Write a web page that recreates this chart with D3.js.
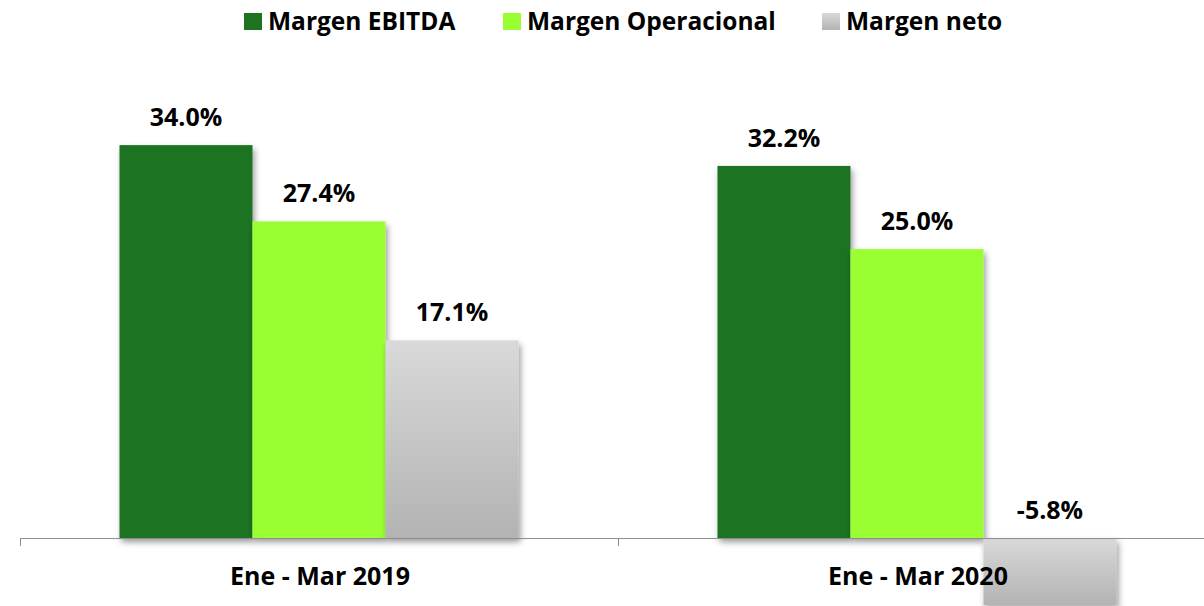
<!DOCTYPE html>
<html>
<head>
<meta charset="utf-8">
<script src="https://cdn.jsdelivr.net/npm/d3@7"></script>
<style>
  html, body { margin: 0; padding: 0; background: #fff; }
  svg { display: block; }
  text { font-family: "Open Sans", "Liberation Sans", sans-serif; font-weight: 700; fill: #000; }
</style>
</head>
<body>
<svg id="chart" width="1204" height="606"></svg>
<script>
const categories = ["Ene - Mar 2019", "Ene - Mar 2020"];
const seriesNames = ["Margen EBITDA", "Margen Operacional", "Margen neto"];
const ebitda = [34.0, 32.2];
const operacional = [27.4, 25.0];
const neto = [17.1, -5.8];
const seriesValues = [ebitda, operacional, neto];

const W = 1204, H = 606;
const svg = d3.select("#chart");
const defs = svg.append("defs");

const shadow = defs.append("filter").attr("id", "shadow")
  .attr("x", "-10%").attr("y", "-10%").attr("width", "130%").attr("height", "130%");
shadow.append("feDropShadow").attr("dx", 2).attr("dy", 4).attr("stdDeviation", 3)
  .attr("flood-color", "#000").attr("flood-opacity", 0.4);

const grayGrad = defs.append("linearGradient").attr("id", "grayGrad")
  .attr("x1", 0).attr("y1", 0).attr("x2", 0).attr("y2", 1);
grayGrad.append("stop").attr("offset", "0%").attr("stop-color", "#d9d9d9");
grayGrad.append("stop").attr("offset", "100%").attr("stop-color", "#b3b3b3");

const fills = ["#1e7321", "#99ff33", "url(#grayGrad)"];

const x0 = d3.scaleBand().domain(categories).range([20, 1216]).paddingInner(0).paddingOuter(0);
const x1 = d3.scaleBand().domain(seriesNames).range([0, x0.bandwidth()])
  .paddingInner(0).paddingOuter(0.748);
const y = d3.scaleLinear().domain([-6, 36]).range([607.4, 122]);

// bars
const data = [];
categories.forEach((c, ci) => {
  seriesNames.forEach((s, si) => {
    data.push({ cat: c, series: s, si, value: seriesValues[si][ci] });
  });
});

const barG = svg.append("g");
barG.selectAll("rect").data(data).join("rect")
  .attr("x", d => x0(d.cat) + x1(d.series))
  .attr("width", x1.bandwidth())
  .attr("y", d => y(Math.max(0, d.value)))
  .attr("height", d => Math.abs(y(d.value) - y(0)))
  .attr("fill", d => fills[d.si])
  .attr("filter", "url(#shadow)");

// axis
const axisG = svg.append("g").attr("transform", `translate(0,${y(0)})`);
const axis = d3.axisBottom(x0).tickSize(0).tickFormat("");
axisG.call(axis);
axisG.select(".domain").remove();
axisG.append("line").attr("x1", x0.range()[0]).attr("x2", x0.range()[1]).attr("y1", 0.5).attr("y2", 0.5)
  .attr("stroke", "#8c8c8c").attr("stroke-width", 1);
const tickX = [x0.range()[0], x0(categories[1]), x0.range()[1]];
axisG.selectAll("line.tk").data(tickX).join("line").attr("class", "tk")
  .attr("x1", d => d + 0.5).attr("x2", d => d + 0.5).attr("y1", 0).attr("y2", 8)
  .attr("stroke", "#8c8c8c").attr("stroke-width", 1);

// category labels
svg.append("g").selectAll("text").data(categories).join("text")
  .attr("x", d => x0(d) + x0.bandwidth() / 2 + 1)
  .attr("y", 585)
  .attr("text-anchor", "middle")
  .attr("font-size", 25)
  .text(d => d);

// value labels
svg.append("g").selectAll("text").data(data).join("text")
  .attr("x", d => x0(d.cat) + x1(d.series) + x1.bandwidth() / 2)
  .attr("y", d => y(Math.max(0, d.value)) - 19)
  .attr("text-anchor", "middle")
  .attr("font-size", 25)
  .text(d => d.value.toFixed(1) + "%");

// legend
const legendX = [244, 503, 822];
const lg = svg.append("g").selectAll("g").data(seriesNames).join("g")
  .attr("transform", (d, i) => `translate(${legendX[i]},0)`);
lg.append("rect").attr("x", 0).attr("y", 13).attr("width", 18).attr("height", 17)
  .attr("fill", (d, i) => fills[i]);
lg.append("text").attr("x", 24).attr("y", 30).attr("font-size", 24.5).text(d => d);
</script>
</body>
</html>
